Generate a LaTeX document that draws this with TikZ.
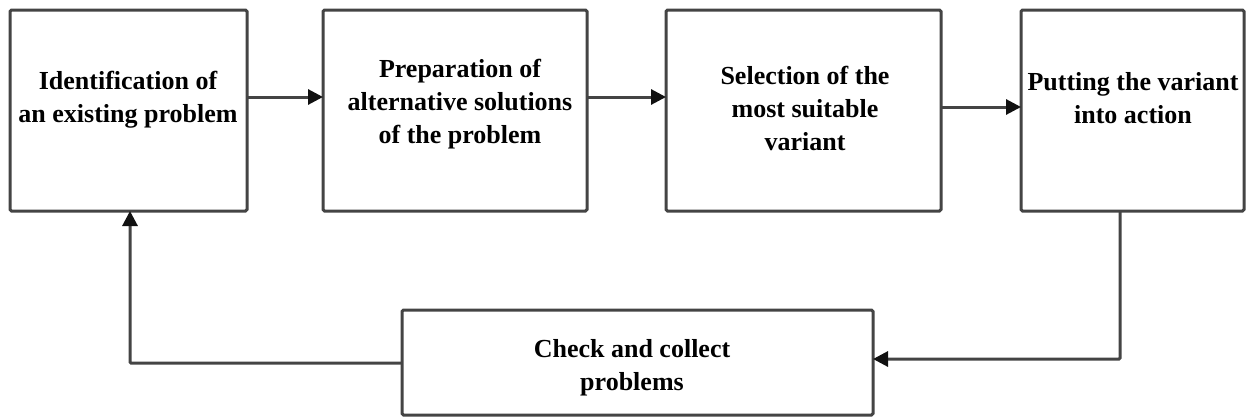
\documentclass[tikz,border=0pt]{standalone}
\usepackage{fontspec}
\setmainfont{Liberation Serif}
\usetikzlibrary{arrows.meta}
\definecolor{edgegray}{HTML}{444444}
\definecolor{tipcol}{HTML}{111111}
\tikzset{
  box/.style={draw=edgegray, line width=3pt, rounded corners=1.5pt, inner sep=0pt, outer sep=0pt, fill=white},
  lbl/.style={align=center, font=\fontsize{26}{33}\selectfont\bfseries, inner sep=0pt, anchor=base},
  arr/.style={draw=edgegray, line width=3pt, -{Triangle[length=15pt,width=15pt,color=tipcol]}}
}
\begin{document}
\begin{tikzpicture}[x=1pt,y=-1pt]
\useasboundingbox (0,0) rectangle (1247,418);
\node[box, minimum width=237pt, minimum height=201pt] (b1) at (128.5,110.5) {};
\node[box, minimum width=264pt, minimum height=201pt] (b2) at (455,110.5) {};
\node[box, minimum width=275pt, minimum height=201pt] (b3) at (803.5,110.5) {};
\node[box, minimum width=223pt, minimum height=201pt] (b4) at (1132.5,110.5) {};
\node[box, minimum width=471pt, minimum height=105pt] (b5) at (637.5,362.5) {};

\node[lbl] (t1) at (128,122) {Identification of\\an existing problem};
\node[lbl] (t2) at (460,143) {Preparation of\\alternative solutions\\of the problem};
\node[lbl] (t3) at (805,150) {Selection of the\\most suitable\\variant};
\node[lbl] (t4) at (1133,123) {Putting the variant\\into action};
\node[lbl] (t5) at (632,390) {Check and collect\\problems};

\draw[arr] (b1.east |- 0,97) -- (b2.west |- 0,97);
\draw[arr] (b2.east |- 0,97) -- (b3.west |- 0,97);
\draw[arr] (b3.east |- 0,107) -- (b4.west |- 0,107);
\draw[arr, rounded corners=1pt] (b4.south -| 1120,0) |- (b5.east |- 0,359);
\draw[arr, rounded corners=1pt] (b5.west |- 0,363) -| (b1.south -| 130,0);
\end{tikzpicture}
\end{document}
